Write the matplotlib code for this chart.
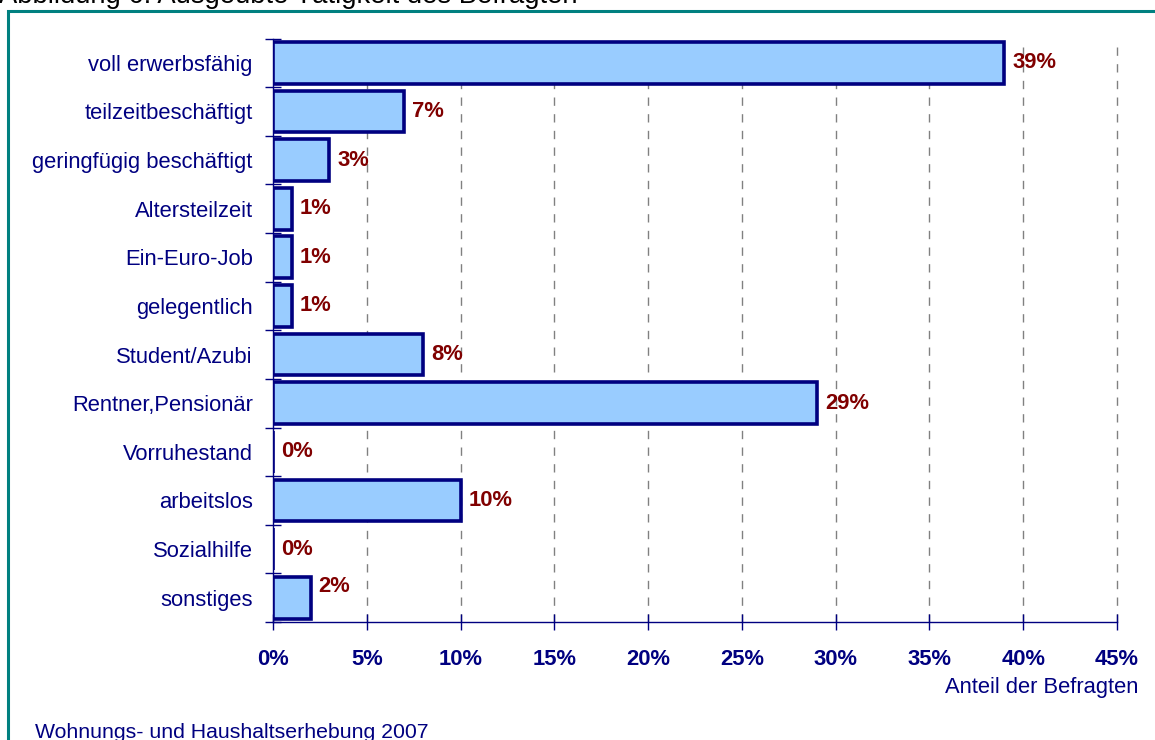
import numpy as np
import matplotlib.pyplot as plt
from matplotlib.patches import Rectangle

# Daten: Ausgeübte Tätigkeit des Befragten (Anteil in %)
kategorien = ["voll erwerbsfähig", "teilzeitbeschäftigt", "geringfügig beschäftigt",
              "Altersteilzeit", "Ein-Euro-Job", "gelegentlich", "Student/Azubi",
              "Rentner,Pensionär", "Vorruhestand", "arbeitslos", "Sozialhilfe", "sonstiges"]
anteile = [39, 7, 3, 1, 1, 1, 8, 29, 0, 10, 0, 2]
x_ticks = [0, 5, 10, 15, 20, 25, 30, 35, 40, 45]

navy = "#000080"
rot = "#800000"
fs = 15.8
plt.rcParams['font.family'] = ['Liberation Sans', 'DejaVu Sans']

fig = plt.figure(figsize=(11.55, 7.4), dpi=100)
W, H = 1155, 740

# Rahmen (teal), rechts und unten abgeschnitten
fig.patches.append(Rectangle((8 / W, -0.05), 1.1, 1 - 11 / H + 0.05, transform=fig.transFigure,
                             fill=False, edgecolor="#008080", linewidth=2.2, zorder=0))

fig.text(-0.001, 1 - 3 / H, "Abbildung 6: Ausgeübte Tätigkeit des Befragten",
         fontsize=19.7, color="black", va="baseline", ha="left")
fig.text(35 / W, 1 - 738 / H, "Wohnungs- und Haushaltserhebung 2007",
         fontsize=15.3, color=navy, va="baseline", ha="left")

ax = fig.add_axes([273 / W, 1 - 622 / H, (1117 - 273) / W, (622 - 38.5) / H])
n = len(kategorien)
y = np.arange(n)
ax.barh(y, anteile, height=0.86, color="#99CCFF", edgecolor=navy, linewidth=2.6, zorder=3)

ax.set_xlim(0, 45)
ax.set_ylim(n - 0.5, -0.5)

for i, v in enumerate(anteile):
    dy = -0.22 if i == n - 1 else 0
    ax.text(v + 0.42, i + dy, f"{v}%", color=rot, fontsize=fs, fontweight="bold",
            va="center", ha="left", zorder=4)

ax.set_xticks(x_ticks)
ax.set_xticklabels([f"{t}%" for t in x_ticks], fontsize=fs, fontweight="bold", color=navy)
ax.set_yticks(y)
ax.set_yticklabels(kategorien, fontsize=fs, color=navy)
ax.tick_params(axis="y", which="major", length=0, pad=14.5)
ax.set_yticks(np.arange(-0.5, n, 1), minor=True)
ax.tick_params(axis="y", which="minor", direction="inout", length=11, color=navy, width=1)
ax.tick_params(axis="x", which="major", direction="inout", length=11, color=navy, width=1, pad=14)

for t in x_ticks[1:]:
    ax.axvline(t, color="#808080", linestyle=(0, (6, 6)), linewidth=1, zorder=1, clip_on=False)

for s in ["top", "right"]:
    ax.spines[s].set_visible(False)
for s in ["left", "bottom"]:
    ax.spines[s].set_color(navy)
    ax.spines[s].set_linewidth(1)

ax.set_xlabel("Anteil der Befragten", fontsize=fs, color=navy, ha="right", va="center")
ax.xaxis.set_label_coords((1138 - 273) / 844, -(688 - 622) / 583.5)

fig.savefig("out.png", dpi=100)
